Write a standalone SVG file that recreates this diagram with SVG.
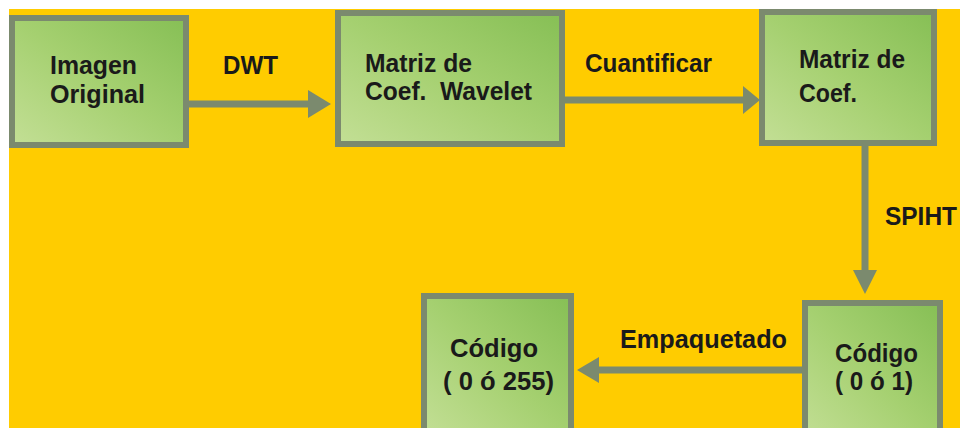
<svg xmlns="http://www.w3.org/2000/svg" width="960" height="428" viewBox="0 0 960 428">
<defs>
<linearGradient id="g" x1="0" y1="1" x2="1" y2="0">
<stop offset="0" stop-color="#C3DF95"/>
<stop offset="0.5" stop-color="#A5D070"/>
<stop offset="1" stop-color="#86BF55"/>
</linearGradient>
<style>
.box{fill:url(#g);stroke:#7B8A6E;stroke-width:6}
.ln{stroke:#7B8A6E;stroke-width:7;fill:none}
.hd{fill:#7B8A6E}
text{font-family:"Liberation Sans",Arial,sans-serif;font-weight:bold;font-size:26px;fill:#1A1A1A}
</style>
</defs>
<rect x="0" y="0" width="960" height="428" fill="#FFFFFF"/>
<rect x="9" y="9" width="951" height="419" fill="#FFCC00"/>
<g id="connectors">
<line class="ln" x1="189" y1="104" x2="310" y2="104"/>
<polygon class="hd" points="308,90 331,104 308,118"/>
<line class="ln" x1="565" y1="100" x2="745" y2="100"/>
<polygon class="hd" points="743,86 760,100 743,114"/>
<line class="ln" x1="865" y1="146" x2="865" y2="272"/>
<polygon class="hd" points="853,270 877,270 865,294"/>
<line class="ln" x1="802" y1="370" x2="597" y2="370"/>
<polygon class="hd" points="599,357 577,370 599,383"/>
<text x="223" y="74" textLength="55" lengthAdjust="spacingAndGlyphs">DWT</text>
<text x="585" y="72" textLength="127" lengthAdjust="spacingAndGlyphs">Cuantificar</text>
<text x="885" y="225" textLength="72" lengthAdjust="spacingAndGlyphs">SPIHT</text>
<text x="620" y="348" textLength="167" lengthAdjust="spacingAndGlyphs">Empaquetado</text>
</g>
<g id="n1">
<rect class="box" x="12" y="18" width="174" height="127"/>
<text x="50" y="74" textLength="87" lengthAdjust="spacingAndGlyphs">Imagen</text>
<text x="50" y="103" textLength="95" lengthAdjust="spacingAndGlyphs">Original</text>
</g>
<g id="n2">
<rect class="box" x="338" y="13" width="224" height="131"/>
<text x="365" y="72" textLength="107" lengthAdjust="spacingAndGlyphs">Matriz de</text>
<text x="365" y="100" textLength="167" lengthAdjust="spacingAndGlyphs" style="white-space:pre">Coef.  Wavelet</text>
</g>
<g id="n3">
<rect class="box" x="762" y="12" width="172" height="131"/>
<text x="799" y="68" textLength="106" lengthAdjust="spacingAndGlyphs">Matriz de</text>
<text x="799" y="102" textLength="58" lengthAdjust="spacingAndGlyphs">Coef.</text>
</g>
<g id="n4">
<rect class="box" x="424" y="296" width="147" height="140"/>
<text x="450" y="357" textLength="88" lengthAdjust="spacingAndGlyphs">Código</text>
<text x="443" y="390" textLength="111" lengthAdjust="spacingAndGlyphs" style="white-space:pre">( 0 ó 255)</text>
</g>
<g id="n5">
<rect class="box" x="805" y="303" width="135" height="140"/>
<text x="835" y="362" textLength="83" lengthAdjust="spacingAndGlyphs">Código</text>
<text x="835" y="390" textLength="78" lengthAdjust="spacingAndGlyphs" style="white-space:pre">( 0 ó 1)</text>
</g>
</svg>
